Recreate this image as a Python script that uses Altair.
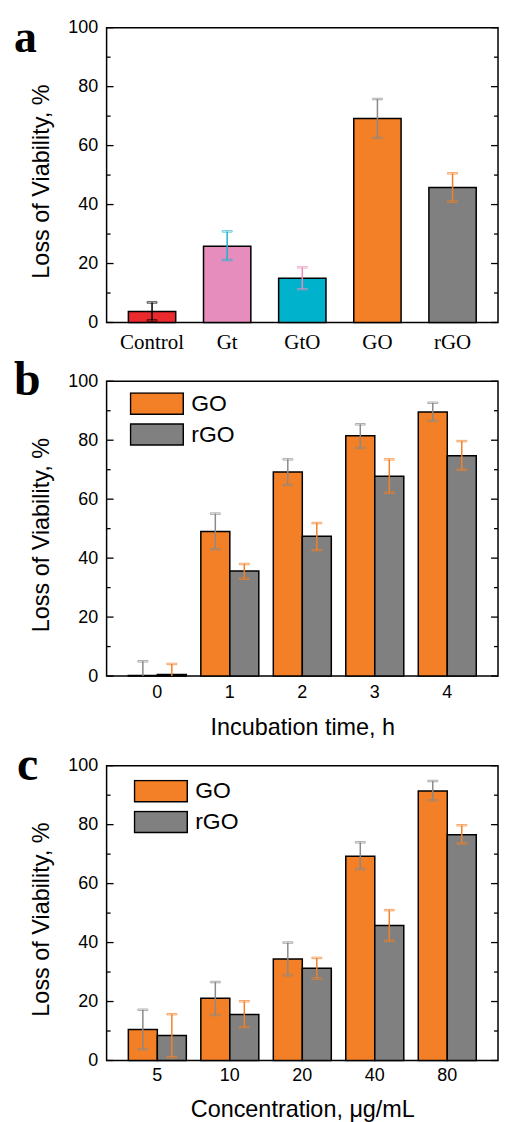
import altair as alt
import pandas as pd

# ---------------- data ----------------
# panel a
a_cats = ["Control", "Gt", "GtO", "GO", "rGO"]
a_vals = [3.7, 25.9, 15.0, 69.2, 45.8]
a_lo = [0.7, 21.2, 11.3, 62.6, 41.0]
a_hi = [6.8, 30.9, 18.7, 75.8, 50.6]
a_fill = ["#EC2A2E", "#E78DBE", "#00B2CB", "#F38026", "#808080"]
a_err = ["#000000", "#1EB4CB", "#E78DBE", "#8A8A8A", "#F38026"]

# panel b
b_times = ["0", "1", "2", "3", "4"]
b_go = [0.2, 49.0, 69.2, 81.5, 89.6]
b_go_lo = [-4.6, 43.0, 64.8, 77.4, 86.6]
b_go_hi = [5.0, 55.1, 73.5, 85.4, 92.7]
b_rgo = [0.5, 35.6, 47.4, 67.8, 74.7]
b_rgo_lo = [-3.1, 33.0, 42.7, 62.2, 70.0]
b_rgo_hi = [4.1, 38.0, 51.9, 73.5, 79.7]

# panel c
c_conc = ["5", "10", "20", "40", "80"]
c_go = [10.5, 21.1, 34.4, 69.3, 91.4]
c_go_lo = [3.8, 15.4, 28.9, 64.9, 88.2]
c_go_hi = [17.2, 26.6, 40.0, 74.0, 94.8]
c_rgo = [8.5, 15.6, 31.3, 45.8, 76.6]
c_rgo_lo = [1.1, 11.3, 27.8, 40.6, 73.6]
c_rgo_hi = [15.7, 20.1, 34.8, 51.0, 79.8]

series = ["GO", "rGO"]
series_fill = ["#F38026", "#808080"]
series_err = ["#8A8A8A", "#F38026"]

major_ticks = [0, 20, 40, 60, 80, 100]
minor_ticks = [10, 30, 50, 70, 90]

Y_TITLE = "Loss of Viability, %"
SANS = "Liberation Sans"
SERIF = "Liberation Serif"
H = 296
W = 393

Y_AXIS = alt.Axis(
    values=major_ticks, grid=False, ticks=False, domain=False,
    labelFont=SANS, labelFontSize=18, labelColor="black",
    labelPadding=9, title=Y_TITLE, titleFont=SANS,
    titleFontSize=23.5, titleFontWeight="normal",
    titleColor="black", titlePadding=14.5, titleY=154,
)
Y_SCALE = alt.Scale(domain=[0, 100], nice=False)


def y_enc(field):
    return alt.Y(field, scale=Y_SCALE, axis=Y_AXIS)


def tick_layers():
    maj = pd.DataFrame({"v": major_ticks})
    mnr = pd.DataFrame({"v": minor_ticks})
    out = []
    for d, ln in ((maj, 7), (mnr, 4)):
        out.append(alt.Chart(d).mark_rule(color="black", strokeWidth=1.3).encode(
            y=y_enc("v:Q"), x=alt.value(0), x2=alt.value(ln)))
        out.append(alt.Chart(d).mark_rule(color="black", strokeWidth=1.3).encode(
            y=y_enc("v:Q"), x=alt.value(W), x2=alt.value(W - ln)))
    return out


def letter(t, x, y, fs=48):
    return alt.Chart(pd.DataFrame({"t": [t]})).mark_text(
        font=SERIF, fontWeight="bold", fontSize=fs, align="left",
        baseline="alphabetic", color="black",
    ).encode(text="t:N", x=alt.value(x), y=alt.value(y))


frame = alt.ViewBackground(stroke="black", strokeWidth=1.5)

# ---------------- panel a ----------------
dfa = pd.DataFrame({"cat": a_cats, "val": a_vals, "lo": a_lo, "hi": a_hi, "ec": a_err})
xa = alt.X("cat:N", sort=a_cats,
           scale=alt.Scale(paddingInner=0.37, paddingOuter=0.29),
           axis=alt.Axis(labelAngle=0, labelFont=SERIF, labelFontSize=21,
                         labelColor="black", labelPadding=9, ticks=False,
                         domain=False, title=None))
base_a = alt.Chart(dfa)
bars_a = base_a.mark_bar(stroke="black", strokeWidth=1.5).encode(
    x=xa, y=y_enc("val:Q"),
    fill=alt.Fill("cat:N", sort=a_cats,
                  scale=alt.Scale(domain=a_cats, range=a_fill), legend=None))
err_a = base_a.mark_rule(strokeWidth=1.5).encode(
    x=xa, y=y_enc("lo:Q"), y2="hi:Q", stroke=alt.Stroke("ec:N", scale=None))
caph_a = base_a.mark_tick(thickness=1.5, size=10).encode(
    x=xa, y=y_enc("hi:Q"), stroke=alt.Stroke("ec:N", scale=None),
    fill=alt.value("transparent"))
capl_a = base_a.mark_tick(thickness=1.5, size=10).encode(
    x=xa, y=y_enc("lo:Q"), stroke=alt.Stroke("ec:N", scale=None),
    fill=alt.value("transparent"))
panel_a = alt.layer(bars_a, err_a, caph_a, capl_a, *tick_layers(),
                    letter("a", -93, 24.8, 46)).properties(
    width=W, height=H, view=frame)


# ---------------- grouped panels ----------------
def grouped(cats, go, go_lo, go_hi, rgo, rgo_lo, rgo_hi, xtitle, lab, lx, ly,
            legx, legy, lpad, tpad):
    rows = []
    for i, c in enumerate(cats):
        rows.append({"c": c, "s": series[0], "val": go[i], "lo": go_lo[i],
                     "hi": go_hi[i], "ec": series_err[0]})
        rows.append({"c": c, "s": series[1], "val": rgo[i], "lo": rgo_lo[i],
                     "hi": rgo_hi[i], "ec": series_err[1]})
    df = pd.DataFrame(rows)
    x = alt.X("c:N", sort=cats,
              scale=alt.Scale(paddingInner=0.2, paddingOuter=0.3),
              axis=alt.Axis(labelAngle=0, labelFont=SANS, labelFontSize=18,
                            labelColor="black", labelPadding=lpad, ticks=False,
                            domain=False, title=xtitle, titleFont=SANS,
                            titleFontSize=23.5, titleFontWeight="normal",
                            titleColor="black", titlePadding=tpad))
    xo = alt.XOffset("s:N", sort=series, scale=alt.Scale(domain=series))
    base = alt.Chart(df)
    bars = base.mark_bar(stroke="black", strokeWidth=1.5).encode(
        x=x, xOffset=xo, y=y_enc("val:Q"),
        fill=alt.Fill("s:N", sort=series,
                      scale=alt.Scale(domain=series, range=series_fill),
                      legend=alt.Legend(
                          orient="none", legendX=legx, legendY=legy, title=None,
                          symbolType="M-1,-0.4H1V0.4H-1Z", symbolSize=2809,
                          symbolStrokeColor="black", symbolStrokeWidth=1.5,
                          symbolOpacity=1, labelFont=SANS, labelFontSize=23,
                          labelColor="black", labelOffset=7, rowPadding=7,
                          clipHeight=23, padding=0)))
    err = base.mark_rule(strokeWidth=1.5, clip=True).encode(
        x=x, xOffset=xo, y=y_enc("lo:Q"), y2="hi:Q",
        stroke=alt.Stroke("ec:N", scale=None))
    caph = base.mark_tick(thickness=1.5, size=10, clip=True).encode(
        x=x, xOffset=xo, y=y_enc("hi:Q"),
        stroke=alt.Stroke("ec:N", scale=None), fill=alt.value("transparent"))
    capl = base.mark_tick(thickness=1.5, size=10, clip=True).encode(
        x=x, xOffset=xo, y=y_enc("lo:Q"),
        stroke=alt.Stroke("ec:N", scale=None), fill=alt.value("transparent"))
    return alt.layer(bars, err, caph, capl, *tick_layers(),
                     letter(lab, lx, ly)).properties(width=W, height=H, view=frame)


panel_b = grouped(b_times, b_go, b_go_lo, b_go_hi, b_rgo, b_rgo_lo, b_rgo_hi,
                  "Incubation time, h", "b", -93, 14.0, 23, 11, 7.5, 14.5)
panel_c = grouped(c_conc, c_go, c_go_lo, c_go_hi, c_rgo, c_rgo_lo, c_rgo_hi,
                  "Concentration, \u03bcg/mL", "c", -90, 14.6, 27, 14, 6.5, 12.3)


def spacer(h):
    return alt.Chart(pd.DataFrame({"v": [0]})).mark_point(opacity=0).encode(
        x=alt.value(0), y=alt.value(0)).properties(width=W, height=h)


chart = alt.vconcat(panel_a, spacer(18.3), panel_b, spacer(49.7), panel_c,
                    spacing=20, bounds="flush").properties(
    padding={"top": 4.5, "left": 5, "right": 0, "bottom": 0}
).configure_view(stroke="transparent").resolve_scale(fill="independent")

chart.save("out.html", embed_options={"renderer": "svg", "actions": False})
